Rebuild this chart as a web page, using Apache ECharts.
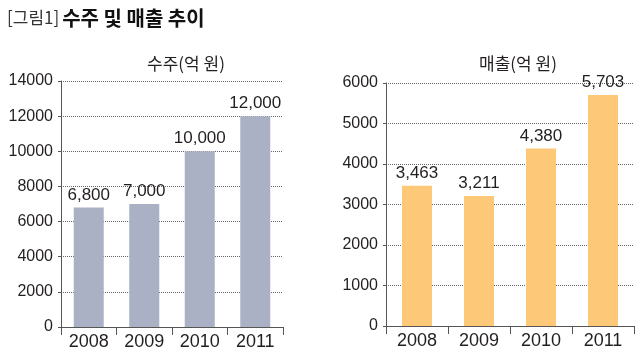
<!DOCTYPE html>
<html>
<head>
<meta charset="utf-8">
<script src="https://cdn.jsdelivr.net/npm/echarts@6/dist/echarts.min.js"></script>
<style>
html,body{margin:0;padding:0;background:#fff;}
#chart{width:640px;height:357px;}
</style>
</head>
<body>
<div id="chart"></div>
<script>
const years = ['2008', '2009', '2010', '2011'];
const ordersValues = [6800, 7000, 10000, 12000];
const salesValues = [3463, 3211, 4380, 5703];
const titlePrefix = '[그림1]';
const titleMain = '수주 및 매출 추이';
const ordersTitle = '수주(억 원)';
const salesTitle = '매출(억 원)';

const numFont = "'Liberation Sans', Arial, sans-serif";
const textColor = '#231f20';

function fmt(v) { return v.toLocaleString('en-US'); }

function yAxisCfg(gridIndex, max, interval) {
  return {
    type: 'value', gridIndex: gridIndex, min: 0, max: max, interval: interval,
    axisLine: { show: true, lineStyle: { color: '#555', width: 1 } },
    axisTick: { show: true, length: 3, lineStyle: { color: '#555' } },
    axisLabel: { color: textColor, fontFamily: numFont, fontSize: 16, margin: 8,
      formatter: v => String(v) },
    splitLine: { show: true, lineStyle: { type: 'dotted', color: '#666', width: 1 } }
  };
}
function xAxisCfg(gridIndex) {
  return {
    type: 'category', gridIndex: gridIndex, data: years,
    axisLine: { show: true, lineStyle: { color: '#555', width: 1 } },
    axisTick: { show: true, length: 8, lineStyle: { color: '#555' } },
    axisLabel: { color: textColor, fontFamily: numFont, fontSize: 18, margin: 6 }
  };
}
function barSeries(idx, data, color) {
  return {
    type: 'bar', xAxisIndex: idx, yAxisIndex: idx, data: data, barWidth: 30,
    itemStyle: { color: color },
    label: { show: true, position: 'top', distance: 4, color: textColor,
      fontFamily: numFont, fontSize: 17, formatter: p => fmt(p.value) }
  };
}

const chart = echarts.init(document.getElementById('chart'));
chart.setOption({
  animation: false,
  backgroundColor: '#fff',
  title: [
    { text: '{a|' + titlePrefix + '}{b|' + titleMain + '}', left: 2, top: 3,
      textStyle: { rich: {
        a: { fontFamily: 'Noto Sans CJK KR', fontSize: 17, color: '#333', fontWeight: 'normal' },
        b: { fontFamily: 'Noto Sans CJK KR', fontSize: 20, color: '#111', fontWeight: 'bold', padding: [0, 0, 0, 3] }
      } } },
    { text: ordersTitle, left: 181, top: 50, textAlign: 'center',
      textStyle: { fontFamily: 'Noto Sans CJK KR', fontSize: 17, color: textColor, fontWeight: 'normal' } },
    { text: salesTitle, left: 513, top: 50, textAlign: 'center',
      textStyle: { fontFamily: 'Noto Sans CJK KR', fontSize: 17, color: textColor, fontWeight: 'normal' } }
  ],
  grid: [
    { left: 61, right: 357, top: 81, bottom: 30 },
    { left: 386, right: 6, top: 83, bottom: 31 }
  ],
  xAxis: [xAxisCfg(0), xAxisCfg(1)],
  yAxis: [yAxisCfg(0, 14000, 2000), yAxisCfg(1, 6000, 1000)],
  series: [
    barSeries(0, ordersValues, '#abb1c5'),
    barSeries(1, salesValues, '#fdc978')
  ]
});
</script>
</body>
</html>
